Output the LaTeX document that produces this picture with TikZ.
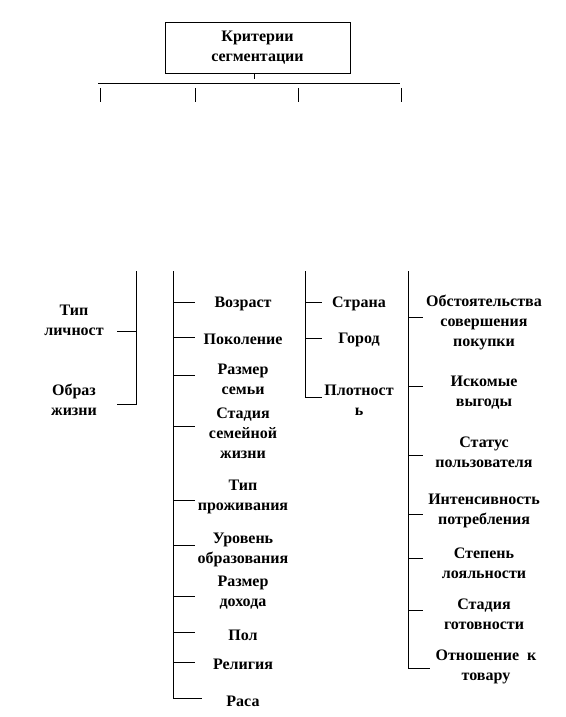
\documentclass[tikz,border=0pt]{standalone}
\usepackage{fontspec}
\setmainfont{Liberation Serif}
\begin{document}
\begin{tikzpicture}[x=1pt,y=-1pt,
  lblfont/.style={font=\bfseries\fontsize{16}{20}\selectfont, align=center, inner sep=0pt},
  lbl/.style={lblfont, yshift=-2pt},
  ln/.style={line width=0.8pt, black}]
\useasboundingbox (0,0) rectangle (565,717);
% top box
\node[draw, line width=0.8pt, minimum width=185pt, minimum height=51pt, lblfont] (top) at (257.5,47.5) {Критерии\\сегментации};
\coordinate (tk) at (254,79);
\draw[ln] (top.south -| tk) -- (tk);
\coordinate (hl) at (98,83);
\coordinate (hr) at (400,83);
\draw[ln] (hl) -- (hr);
\foreach \x/\n in {100/a,195/b,298/c,401/d}{
  \coordinate (t\n1) at (\x,88);
  \coordinate (t\n2) at (\x,102);
  \draw[ln] (t\n1) -- (t\n2);
}
% group 1
\node[lbl] (g1a) at (74,318.5) {Тип\\личност};
\node[lbl] (g1b) at (74,397.5) {Образ\\жизни};
\coordinate (v1t) at (136,271);
\coordinate (v1b) at (136,404);
\draw[ln] (v1t) -- (v1b) -- (117,404);
\draw[ln] (117,331) -- (136,331);
% group 2
\coordinate (v2t) at (173,271);
\coordinate (v2b) at (173,698);
\draw[ln] (v2t) -- (v2b) -- (202,698);
\foreach \y in {302,337,375,426,500,545,596,632,662}{
  \draw[ln] (173,\y) -- (195,\y);
}
\node[lbl] (b1) at (243,302) {Возраст};
\node[lbl] (b2) at (243,337) {Поколение};
\node[lbl] (b3) at (243,377.5) {Размер\\семьи};
\node[lbl] (b4) at (243,431) {Стадия\\семейной\\жизни};
\node[lbl] (b5) at (243,495) {Тип\\проживания};
\node[lbl] (b6) at (243,547.5) {Уровень\\образования};
\node[lbl] (b7) at (243,591) {Размер\\дохода};
\node[lbl] (b8) at (243,633) {Пол};
\node[lbl] (b9) at (243,662) {Религия};
\node[lbl] (b10) at (243,699) {Раса};
% group 3
\coordinate (v3t) at (305,271);
\coordinate (v3b) at (305,397);
\draw[ln] (v3t) -- (v3b) -- (322,397);
\draw[ln] (305,302) -- (322,302);
\draw[ln] (305,338) -- (322,338);
\node[lbl] (c1) at (359,302) {Страна};
\node[lbl] (c2) at (359,338) {Город};
\node[lbl] (c3) at (359,398) {Плотност\\ь};
% group 4
\coordinate (v4t) at (408,271);
\coordinate (v4b) at (408,668);
\draw[ln] (v4t) -- (v4b) -- (430,668);
\foreach \y in {317,386,455,514,558,610}{
  \draw[ln] (408,\y) -- (423,\y);
}
\node[lbl] (d1) at (484,320.5) {Обстоятельства\\совершения\\покупки};
\node[lbl] (d2) at (484,391) {Искомые\\выгоды};
\node[lbl] (d3) at (484,450) {Статус\\пользователя};
\node[lbl] (d4) at (484,508.5) {Интенсивность\\потребления};
\node[lbl] (d5) at (484,561) {Степень\\лояльности};
\node[lbl] (d6) at (484,612) {Стадия\\готовности};
\node[lbl] (d7) at (486,664.5) {Отношение~ к\\товару};
\end{tikzpicture}
\end{document}
